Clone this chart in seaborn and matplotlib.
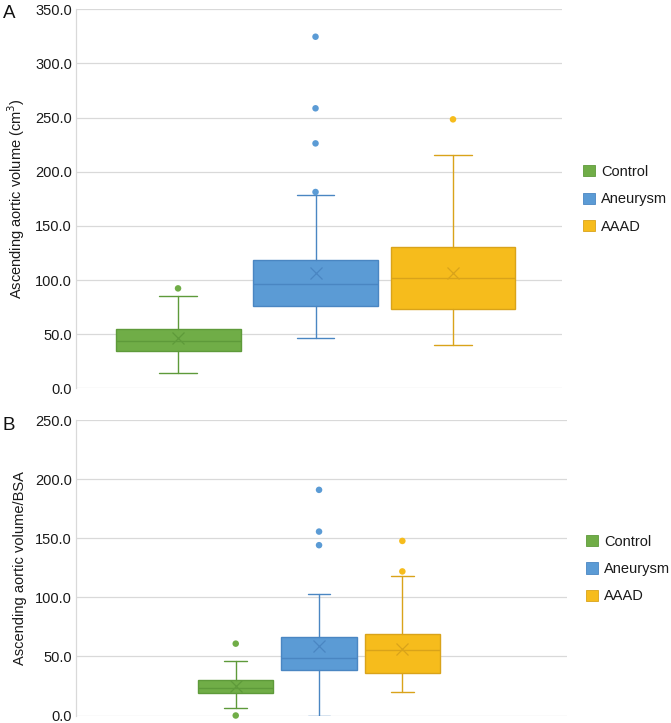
import matplotlib
matplotlib.use("Agg")
import matplotlib.pyplot as plt
from matplotlib.patches import Patch
import seaborn as sns
import pandas as pd

groups = ["Control", "Aneurysm", "AAAD"]
fills = ["#70AD47", "#5B9BD5", "#F6BC1C"]
edges = ["#5E9A3A", "#4A86C2", "#D9A31A"]

# Panel A: ascending aortic volume (cm3)
a_q1 = [34.4, 76.0, 73.0]
a_med = [43.7, 96.0, 101.6]
a_q3 = [54.8, 118.2, 130.8]
a_lo = [13.9, 46.2, 40.0]
a_hi = [85.0, 178.8, 215.7]
a_mean = [46.2, 106.8, 106.2]
a_fliers = [[92.3], [181.3, 226.2, 258.6, 324.7], [248.4]]

# Panel B: ascending aortic volume / BSA
b_q1 = [19.3, 38.9, 35.6]
b_med = [23.5, 48.4, 55.2]
b_q3 = [29.9, 66.4, 68.6]
b_lo = [6.7, 0.0, 19.6]
b_hi = [46.5, 102.9, 117.7]
b_mean = [24.9, 58.5, 56.6]
b_fliers = [[0.0, 60.8], [144.1, 155.6, 190.9], [121.9, 147.7]]

yticks_a = [0, 50, 100, 150, 200, 250, 300, 350]
yticks_b = [0, 50, 100, 150, 200, 250]

sns.set_theme(style="whitegrid")
plt.rcParams["font.family"] = ["Liberation Sans", "DejaVu Sans"]

fig = plt.figure(figsize=(6.71, 7.23), dpi=100)
axA = fig.add_axes([0.1133, 0.4629, 0.7243, 0.5242])
axB = fig.add_axes([0.1133, 1 - 715.5 / 723, 0.7313, (715.5 - 420) / 723])


def draw(ax, q1, med, q3, lo, hi, mean, fliers, yticks, xlim, width, ylabel, leg_anchor):
    for i in range(3):
        st = dict(q1=q1[i], med=med[i], q3=q3[i], whislo=lo[i],
                  whishi=hi[i], mean=mean[i], fliers=[])
        ax.bxp([st], positions=[i], widths=width, patch_artist=True,
               showmeans=True, showfliers=False,
               boxprops=dict(facecolor=fills[i], edgecolor=edges[i], linewidth=1.0),
               medianprops=dict(color=edges[i], linewidth=1.0),
               whiskerprops=dict(color=edges[i], linewidth=1.0),
               capprops=dict(color=edges[i], linewidth=1.0),
               capwidths=width * 0.3,
               meanprops=dict(marker="x", markeredgecolor=edges[i],
                              markersize=8, markeredgewidth=0.9),
               zorder=3)
    rows = []
    for i, fl in enumerate(fliers):
        for v in fl:
            rows.append(dict(pos=i, value=v, group=groups[i]))
    df = pd.DataFrame(rows)
    sns.scatterplot(data=df, x="pos", y="value", hue="group",
                    palette=dict(zip(groups, fills)), s=22, linewidth=0,
                    ax=ax, legend=False, zorder=4, clip_on=False)
    ax.set_xlim(*xlim)
    ax.set_ylim(yticks[0], yticks[-1])
    ax.set_yticks(yticks)
    ax.set_yticklabels([f"{t:.1f}" for t in yticks])
    ax.set_xticks([])
    ax.set_xlabel("")
    ax.grid(axis="y", color="#D9D9D9", linewidth=0.9)
    ax.grid(axis="x", visible=False)
    for s in ["top", "right", "bottom"]:
        ax.spines[s].set_visible(False)
    ax.spines["left"].set_color("#D9D9D9")
    ax.spines["left"].set_linewidth(0.9)
    ax.tick_params(axis="y", length=0, pad=3, labelsize=10.5, labelcolor="#1a1a1a")
    ax.set_ylabel(ylabel, fontsize=10.5, color="#1a1a1a")
    ax.yaxis.set_label_coords(-0.1, 0.5)
    handles = [Patch(facecolor=fills[i], edgecolor=edges[i], linewidth=0.6, label=groups[i])
               for i in range(3)]
    leg = ax.legend(handles=handles, loc="center left", bbox_to_anchor=leg_anchor,
                    bbox_transform=fig.transFigure, frameon=False, fontsize=10.5,
                    handlelength=0.8, handleheight=0.8, handletextpad=0.45,
                    labelspacing=0.92, borderpad=0, borderaxespad=0)
    for t in leg.get_texts():
        t.set_color("#1a1a1a")


draw(axA, a_q1, a_med, a_q3, a_lo, a_hi, a_mean, a_fliers, yticks_a,
     (-0.742, 2.793), 0.909, "Ascending aortic volume (cm$^3$)", (583 / 671, 1 - 199.3 / 723))
draw(axB, b_q1, b_med, b_q3, b_lo, b_hi, b_mean, b_fliers, yticks_b,
     (-1.917, 3.973), 0.904, "Ascending aortic volume/BSA", (586 / 671, 1 - 569 / 723))

fig.text(3 / 671, 1 - 14 / 723, "A", fontsize=13.5, va="center", ha="left", color="#111111")
fig.text(3 / 671, 1 - 426 / 723, "B", fontsize=13.5, va="center", ha="left", color="#111111")

fig.savefig("out.png", dpi=100)
